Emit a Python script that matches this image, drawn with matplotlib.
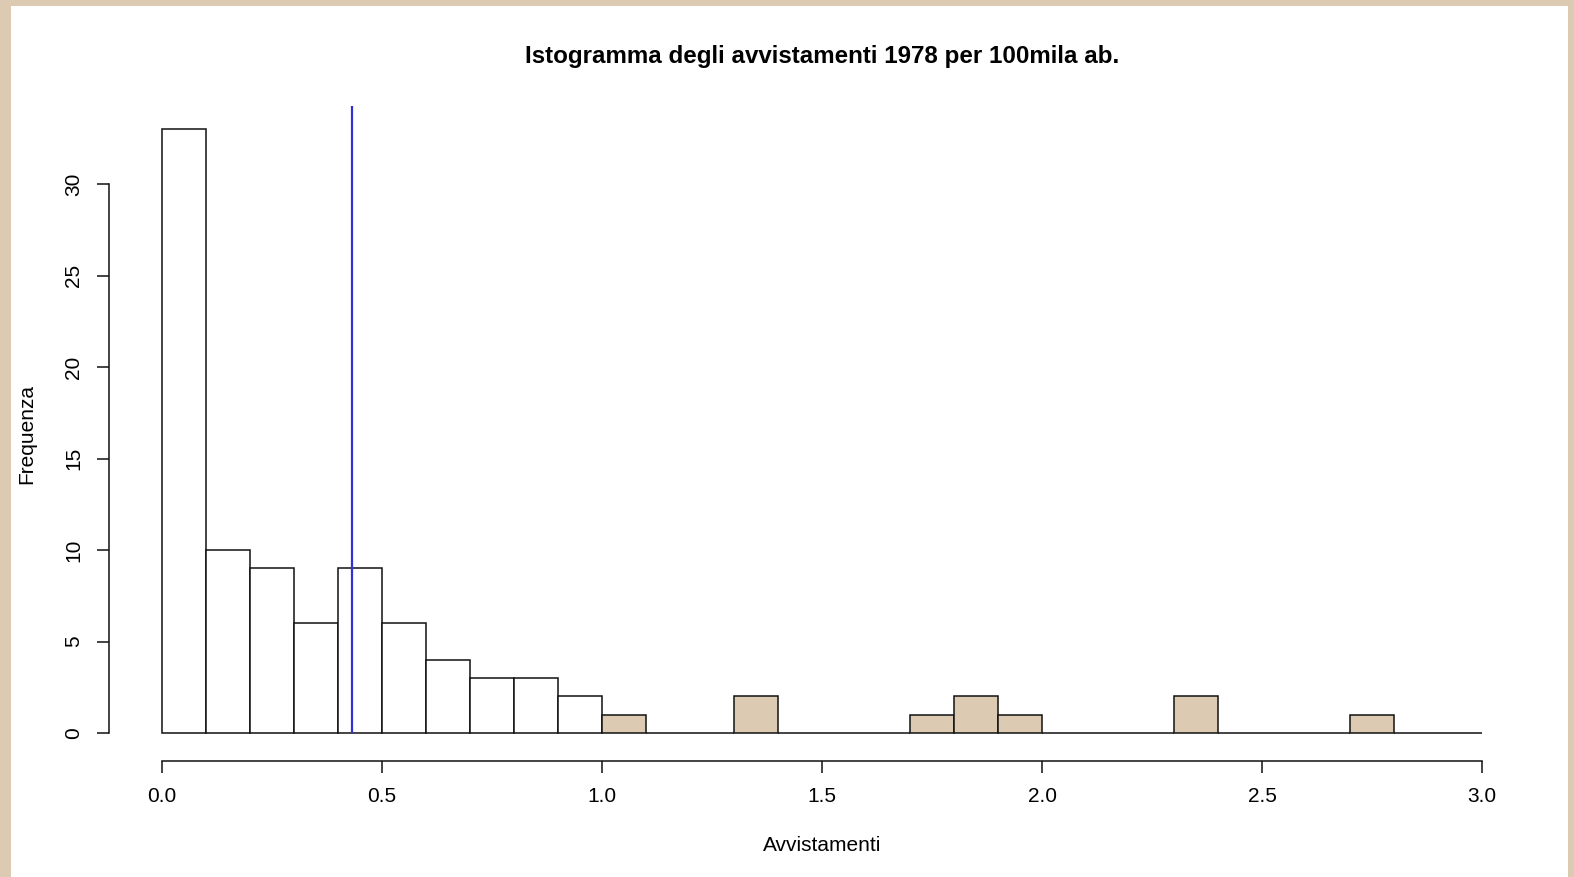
import matplotlib
matplotlib.use("Agg")
import matplotlib.pyplot as plt
from matplotlib.patches import Rectangle

plt.rcParams['font.family'] = ['Liberation Sans', 'DejaVu Sans']

bin_edges = [round(0.1 * i, 1) for i in range(31)]
counts = [33, 10, 9, 6, 9, 6, 4, 3, 3, 2,
          1, 0, 0, 2, 0, 0, 0, 1, 2, 1,
          0, 0, 0, 2, 0, 0, 0, 1, 0, 0]
mean_value = 0.432
title = "Istogramma degli avvistamenti 1978 per 100mila ab."
xlabel = "Avvistamenti"
ylabel = "Frequenza"
xticks = [0.0, 0.5, 1.0, 1.5, 2.0, 2.5, 3.0]
xticklabels = ["0.0", "0.5", "1.0", "1.5", "2.0", "2.5", "3.0"]
yticks = [0, 5, 10, 15, 20, 25, 30]

W, H = 1574, 877
beige = "#dccbb2"
fig = plt.figure(figsize=(W / 100, H / 100), dpi=100, facecolor=beige)
fig.patches.append(Rectangle((11 / W, 0), (1568 - 11) / W, 1 - 6 / H,
                             transform=fig.transFigure, facecolor="white",
                             edgecolor="none", zorder=-10))

left, right, top, bottom = 109, 1535, 106, 761
ax = fig.add_axes([left / W, 1 - bottom / H, (right - left) / W, (bottom - top) / H])
ax.set_zorder(5)
ax.set_facecolor("none")
ax.set_xlim(-0.12, 3.12)
ax.set_ylim(-28 / 18.29, (733 - 106) / 18.29)

lefts = bin_edges[:-1]
widths = [bin_edges[i + 1] - bin_edges[i] for i in range(len(lefts))]
colors = [beige if (l >= 1.0 and c > 0) else "white" for l, c in zip(lefts, counts)]
ax.bar(lefts, counts, width=widths, align="edge", color=colors,
       edgecolor="#111111", linewidth=1.1, zorder=2)

ax.vlines(mean_value, 0, ax.get_ylim()[1], color="#3030d6", linewidth=1.6, zorder=3)

for s in ["top", "right"]:
    ax.spines[s].set_visible(False)
ax.spines["bottom"].set_bounds(0, 3)
ax.spines["left"].set_bounds(0, 30)
for s in ["bottom", "left"]:
    ax.spines[s].set_linewidth(1.1)
    ax.spines[s].set_color("#111111")

ax.set_xticks(xticks)
ax.set_xticklabels(xticklabels)
ax.set_yticks(yticks)
ax.set_yticklabels([str(v) for v in yticks], rotation=90, va="center")
ax.tick_params(axis="both", length=8.6, width=1.1, color="#111111",
               labelsize=15, pad=10)

ax.set_xlabel(xlabel, fontsize=15, labelpad=22)
ax.set_ylabel(ylabel, fontsize=15, labelpad=20)
fig.text((left + right) / 2 / W, 1 - 56 / H, title, ha="center", va="center",
         fontsize=17.4, fontweight="bold")

fig.savefig("out.png", dpi=100, facecolor=beige)
